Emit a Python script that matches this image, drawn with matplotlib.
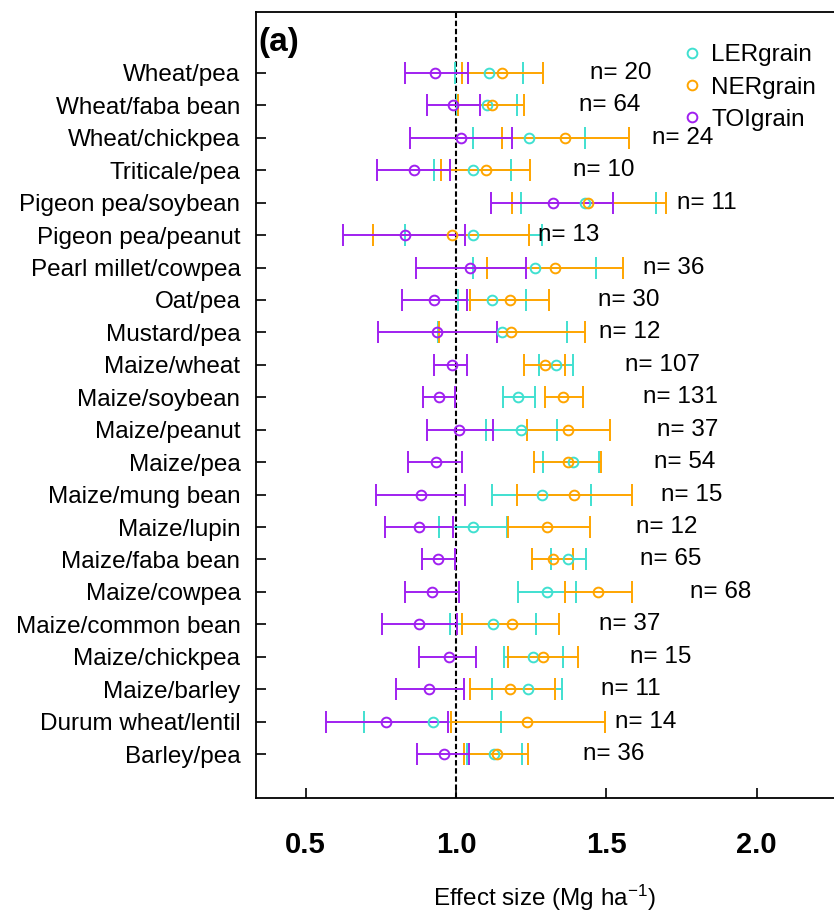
import matplotlib
matplotlib.use("Agg")
from matplotlib import pyplot as plt
from matplotlib.lines import Line2D
import numpy as np

plt.rcParams['font.family'] = ['Liberation Sans', 'DejaVu Sans']
plt.rcParams['mathtext.fontset'] = 'custom'
plt.rcParams['mathtext.rm'] = 'Liberation Sans'
plt.rcParams['mathtext.it'] = 'Liberation Sans:italic'

# rows, top to bottom
pairs = ["Wheat/pea", "Wheat/faba bean", "Wheat/chickpea", "Triticale/pea",
         "Pigeon pea/soybean", "Pigeon pea/peanut", "Pearl millet/cowpea",
         "Oat/pea", "Mustard/pea", "Maize/wheat", "Maize/soybean",
         "Maize/peanut", "Maize/pea", "Maize/mung bean", "Maize/lupin",
         "Maize/faba bean", "Maize/cowpea", "Maize/common bean",
         "Maize/chickpea", "Maize/barley", "Durum wheat/lentil", "Barley/pea"]

ler_mean = [1.109, 1.102, 1.242, 1.055, 1.430, 1.055, 1.264, 1.119, 1.152, 1.333, 1.207,
            1.216, 1.388, 1.285, 1.058, 1.374, 1.304, 1.124, 1.257, 1.238, 0.925, 1.127]
ler_lo = [0.998, 1.002, 1.058, 0.927, 1.216, 0.831, 1.055, 1.008, 0.941, 1.275, 1.157,
          1.100, 1.290, 1.120, 0.943, 1.315, 1.207, 0.980, 1.160, 1.120, 0.694, 1.035]
ler_hi = [1.224, 1.204, 1.429, 1.182, 1.665, 1.285, 1.466, 1.233, 1.368, 1.388, 1.264,
          1.337, 1.475, 1.449, 1.168, 1.432, 1.399, 1.266, 1.357, 1.351, 1.150, 1.218]

ner_mean = [1.154, 1.119, 1.363, 1.099, 1.440, 0.986, 1.330, 1.180, 1.183, 1.296, 1.357,
            1.374, 1.374, 1.392, 1.304, 1.324, 1.471, 1.185, 1.288, 1.180, 1.237, 1.135]
ner_lo = [1.021, 1.008, 1.152, 0.949, 1.187, 0.725, 1.102, 1.047, 0.945, 1.227, 1.296,
          1.235, 1.259, 1.202, 1.172, 1.254, 1.363, 1.021, 1.174, 1.047, 0.982, 1.028]
ner_hi = [1.290, 1.227, 1.575, 1.246, 1.698, 1.244, 1.557, 1.308, 1.429, 1.363, 1.424,
          1.512, 1.482, 1.584, 1.446, 1.388, 1.584, 1.344, 1.407, 1.329, 1.496, 1.238]

toi_mean = [0.931, 0.989, 1.017, 0.861, 1.324, 0.831, 1.047, 0.928, 0.938, 0.986, 0.945,
            1.011, 0.932, 0.882, 0.877, 0.939, 0.919, 0.878, 0.976, 0.911, 0.767, 0.960]
toi_lo = [0.832, 0.902, 0.847, 0.738, 1.115, 0.623, 0.866, 0.819, 0.742, 0.928, 0.891,
          0.902, 0.839, 0.734, 0.764, 0.888, 0.831, 0.753, 0.877, 0.799, 0.567, 0.871]
toi_hi = [1.041, 1.080, 1.187, 0.980, 1.523, 1.030, 1.233, 1.035, 1.135, 1.035, 0.997,
          1.124, 1.021, 1.030, 0.989, 0.997, 1.011, 1.002, 1.067, 1.027, 0.975, 1.044]

n_obs = [20, 64, 24, 10, 11, 13, 36, 30, 12, 107, 131, 37, 54, 15, 12, 65, 68, 37, 15, 11, 14, 36]
n_x = [1.548, 1.512, 1.755, 1.491, 1.834, 1.375, 1.723, 1.573, 1.579, 1.686, 1.747,
       1.769, 1.762, 1.785, 1.700, 1.714, 1.880, 1.578, 1.681, 1.581, 1.630, 1.526]

series = [("LERgrain", ler_mean, ler_lo, ler_hi, "#40E0D0"),
          ("NERgrain", ner_mean, ner_lo, ner_hi, "#FFA500"),
          ("TOIgrain", toi_mean, toi_lo, toi_hi, "#A020F0")]

W, H = 834, 913
fig = plt.figure(figsize=(W / 100, H / 100), dpi=100)
left_px, top_px, bot_px = 255.7, 11.7, 798
ax = fig.add_axes([left_px / W, 1 - bot_px / H, (W - left_px) / W, (bot_px - top_px) / H])

y = np.arange(len(pairs))[::-1] + 1

ax.axvline(1.0, color="black", lw=1.5, dashes=(2.6, 1.3), zorder=1)

handles = []
for name, m, lo, hi, col in series:
    m = np.array(m)
    err = np.vstack([m - np.array(lo), np.array(hi) - m])
    ax.errorbar(m, y, xerr=err, fmt="o", mfc="none", mec=col, ms=7, mew=1.4,
                ecolor=col, elinewidth=1.4, capsize=8, capthick=1.4, zorder=2)
    handles.append(Line2D([], [], ls="none", marker="o", mfc="none", mec=col,
                          ms=7, mew=1.4, label=name))

for yi, nx, n in zip(y, n_x, n_obs):
    ax.text(nx, yi, "n= %d" % n, ha="center", va="center", fontsize=17.5)

ax.set_xlim(1 - (456 - left_px) / 300.7, 1 + (W - 456) / 300.7)
ax.set_ylim(1 - (bot_px - 754) / 32.43, 22 + (73 - top_px) / 32.43)

ax.set_yticks(y)
ax.set_yticklabels(pairs, fontsize=17.5)
ax.set_xticks([0.5, 1.0, 1.5, 2.0])
ax.set_xticklabels(["0.5", "1.0", "1.5", "2.0"], fontsize=21, fontweight="bold")
ax.tick_params(axis="both", direction="in", length=7, width=1.2, color="black")
ax.tick_params(axis="y", pad=11)
ax.tick_params(axis="x", pad=24)
ax.set_xlabel("Effect size (Mg ha$^{-1}$)", fontsize=17.5, labelpad=17)

for s in ["left", "top", "bottom"]:
    ax.spines[s].set_linewidth(1.3)
ax.spines["right"].set_visible(False)

ax.text(0.342, 22.95, "(a)", fontsize=24, fontweight="bold", ha="left", va="center")

ax.legend(handles=handles, loc="upper right", bbox_to_anchor=(0.99, 0.962),
          bbox_transform=fig.transFigure, frameon=False, fontsize=17.5,
          handlelength=0.8, handletextpad=0.4, labelspacing=0.42, borderaxespad=0)

fig.savefig("out.png", dpi=100)
